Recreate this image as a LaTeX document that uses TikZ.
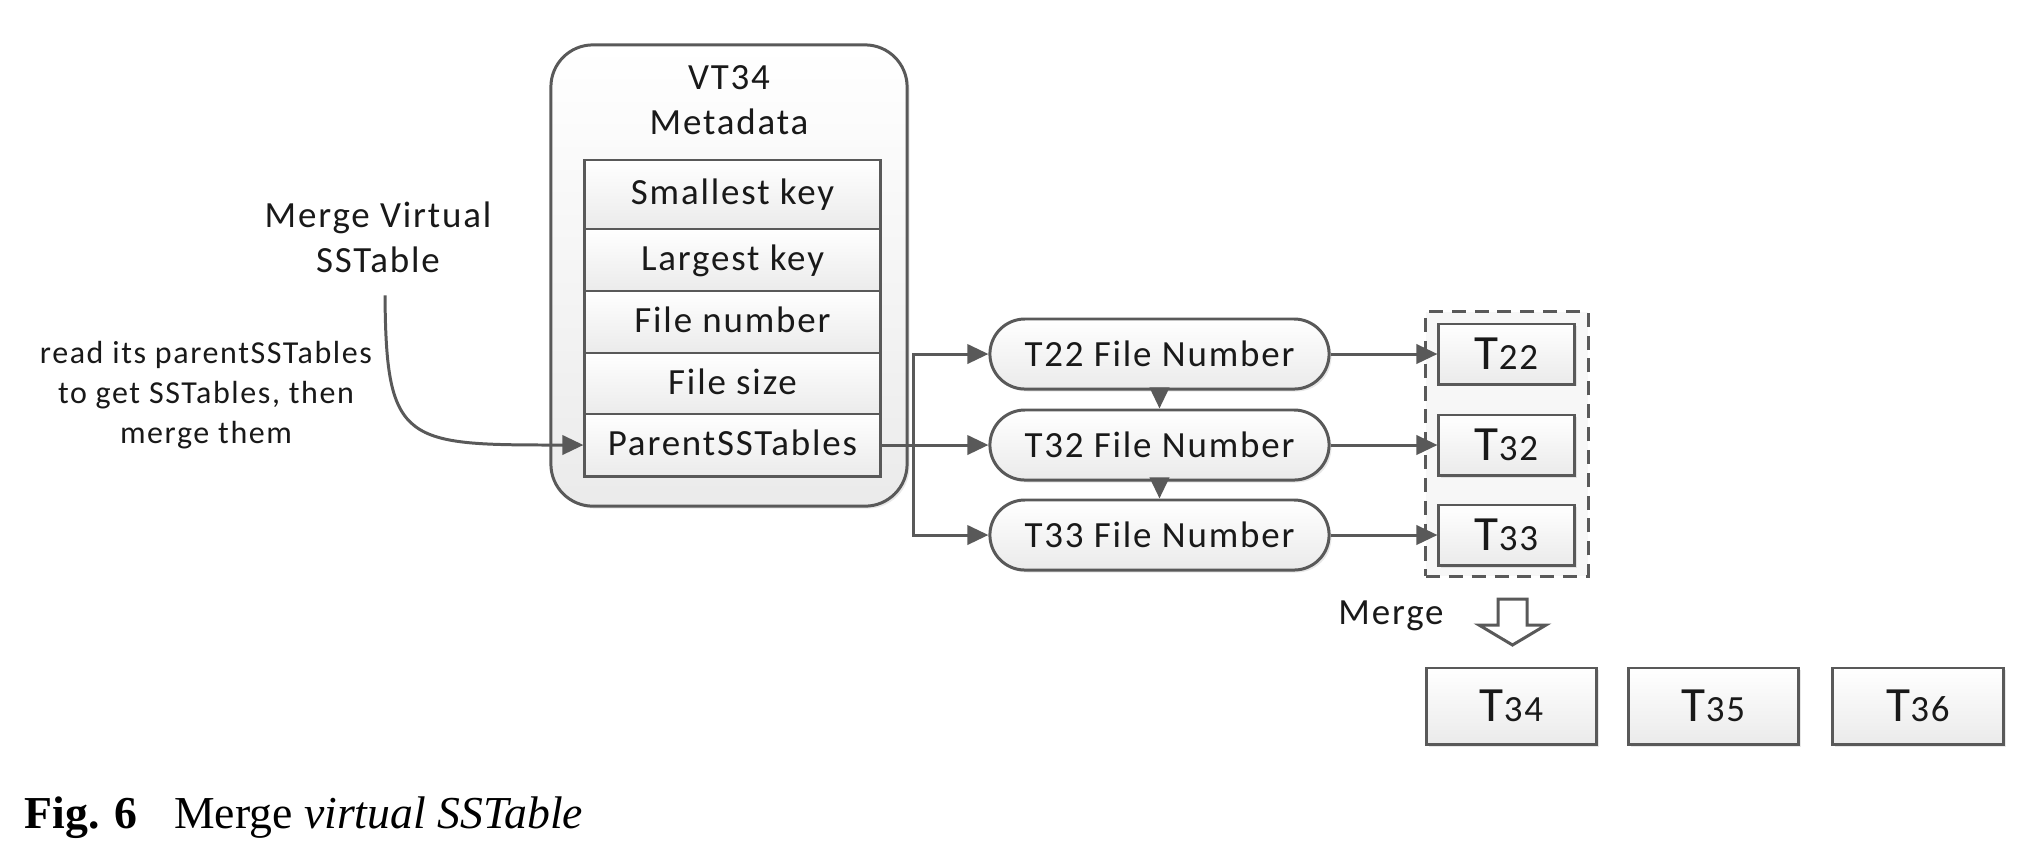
\documentclass[tikz,border=0pt]{standalone}
\usepackage{fontspec}
\setmainfont{Carlito}[LetterSpace=5]
\newfontfamily\capfont{Liberation Serif}
\usetikzlibrary{arrows.meta}
\usetikzlibrary{shadows}

\begin{document}
\begin{tikzpicture}%
	[x={(0.01cm, 0cm)},
	y={(0cm, -0.01cm)},
	line/.style={draw=black!65, line width=0.85pt},
	arr/.style={line, -{Triangle[length=6pt,width=5.5pt]}},
	soft/.style={top color=white, bottom color=black!8},
	shade/.style={drop shadow={shadow xshift=0.7pt, shadow yshift=-0.7pt, opacity=0.18}},
	txt/.style={text=black!90, font=\fontsize{10.5}{12.8}\selectfont, align=center},
	small/.style={text=black!90, font=\fontsize{9.1}{11.4}\selectfont, align=center},
	cell/.style={line, soft, txt, rectangle, inner sep=0pt, text depth=0.3ex, minimum width=2.95cm, minimum height=0.62cm},
	pill/.style={line, soft, shade, txt, rectangle, rounded corners=0.35cm, minimum width=3.39cm, minimum height=0.70cm},
	tbox/.style={line, soft, shade, txt, rectangle, minimum width=1.35cm, minimum height=0.60cm},
	outbox/.style={tbox, minimum width=1.70cm, minimum height=0.76cm}]
%
\useasboundingbox (0,0) rectangle (2020,856);
%%
%% Metadata block of the virtual table
%%
\node[line, soft, shade, rectangle, rounded corners=0.42cm, minimum width=3.56cm, minimum height=4.61cm] (meta) at (729,275.5) {};
\node[txt] (metatitle) at (729,100) {VT34\\Metadata};
\node[cell, minimum height=0.69cm] (smallkey) at (732.5,194.5) {Smallest key};
\node[cell] (largekey) at (732.5,260) {Largest key};
\node[cell] (filenum) at (732.5,322) {File number};
\node[cell] (filesize) at (732.5,384) {File size};
\node[cell] (parents) at (732.5,445) {ParentSSTables};
%%
%% Labels on the left
%%
\node[txt] (mvs) at (378,237) {Merge Virtual\\SSTable};
\node[small] (readlbl) at (206,395) {read its parentSSTables\\to get SSTables, then\\merge them};
\draw[arr] ([xshift=2pt,yshift=-3pt]mvs.south) .. controls (386,445) and (405,445) .. (parents.west);
%%
%% File numbers of the parent tables
%%
\node[pill] (tfn22) at (1159.5,354) {T22 File Number};
\node[pill] (tfn32) at (1159.5,445) {T32 File Number};
\node[pill] (tfn33) at (1159.5,535) {T33 File Number};
\coordinate (fork) at (913,445);
\draw[arr] (parents.east) -- (tfn32.west);
\draw[arr] (fork) |- (tfn22.west);
\draw[arr] (fork) |- (tfn33.west);
\draw[arr] (tfn22.south) -- (tfn32.north);
\draw[arr] (tfn32.south) -- (tfn33.north);
%%
%% Parent tables
%%
\node[line, rectangle, dash pattern=on 4pt off 2.5pt, fill=black!3, minimum width=1.62cm, minimum height=2.64cm] (group) at (1507,444) {};
\node[tbox] (t22) at (1506.5,354) {{\fontsize{14}{14}\selectfont T}22};
\node[tbox] (t32) at (1506.5,445) {{\fontsize{14}{14}\selectfont T}32};
\node[tbox] (t33) at (1506.5,535) {{\fontsize{14}{14}\selectfont T}33};
\draw[arr] (tfn22.east) -- (t22.west);
\draw[arr] (tfn32.east) -- (t32.west);
\draw[arr] (tfn33.east) -- (t33.west);
%%
%% Result of the merge
%%
\node[txt] (mergelbl) at (1391,616) {Merge};
\draw[line, fill=white] (1498,599) -- (1527,599) -- (1527,625) -- (1546,625) -- (1512.5,645) -- (1479,625) -- (1498,625) -- cycle;
\node[outbox] (t34) at (1511.5,706) {{\fontsize{14}{14}\selectfont T}34};
\node[outbox] (t35) at (1713.5,706) {{\fontsize{14}{14}\selectfont T}35};
\node[outbox] (t36) at (1918,706) {{\fontsize{14}{14}\selectfont T}36};
%%
%% Caption
%%
\node[anchor=west, inner sep=0pt, font=\capfont\fontsize{13}{15}\selectfont] (caption) at (24,818) {\textbf{Fig. 6}\hspace{0.8em}Merge \textit{virtual SSTable}};
%%
\end{tikzpicture}
\end{document}
